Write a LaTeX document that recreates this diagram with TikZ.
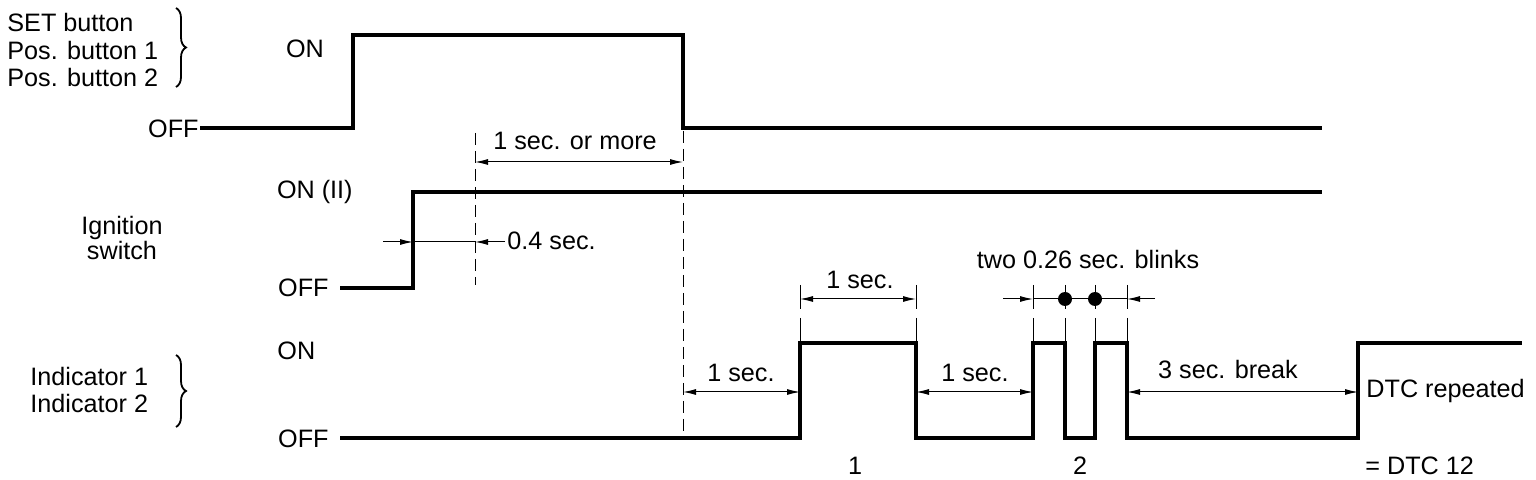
\documentclass[tikz,border=0pt]{standalone}
\usepackage{fontspec}
\setmainfont{Liberation Sans}
\usetikzlibrary{arrows.meta,decorations.pathreplacing}
\begin{document}
\begin{tikzpicture}[x=0.5pt,y=-0.5pt,
  sig/.style={line width=1.6pt, line join=miter, line cap=butt},
  thinln/.style={line width=0.5pt},
  tip/.style={line width=0.5pt,-{Latex[length=6.5pt,width=3pt]}},
  dim/.style={line width=0.5pt,{Latex[length=6.5pt,width=3pt]}-{Latex[length=6.5pt,width=3pt]}},
  dashln/.style={line width=0.5pt, dash pattern=on 6pt off 3pt},
  bracedeco/.style={line width=0.9pt, decorate, decoration={brace, amplitude=5pt}},
  lbl/.style={inner sep=0pt, font=\fontsize{12.6}{13.75}\selectfont},
  dotmark/.style={circle, fill=black, inner sep=0pt, minimum size=7pt}
]
\useasboundingbox (0,0) rectangle (1536,480);

% ---------------- labels ----------------
\node[lbl, anchor=west, align=left] (lset) at (7,50) {SET button\\Pos. button 1\\Pos. button 2};
\node[lbl, align=center, font=\fontsize{12.6}{10.8}\selectfont] (lign) at (122,238) {Ignition\\switch};
\node[lbl, anchor=west, align=left] (lind) at (30,390) {Indicator 1\\Indicator 2};

\node[lbl, anchor=base east] (offA) at (199,138) {OFF};
\node[lbl, anchor=base] (onA) at (305,58) {ON};
\node[lbl, anchor=base east] (onB) at (353,199) {ON (II)};
\node[lbl, anchor=base east] (offB) at (329,297) {OFF};
\node[lbl, anchor=base west] (onC) at (277,360) {ON};
\node[lbl, anchor=base east] (offC) at (329,447) {OFF};

\node[lbl, anchor=base] (tmore) at (575,150) {1 sec. or more};
\node[lbl, anchor=base west] (tfour) at (507,250) {0.4 sec.};
\node[lbl, anchor=base] (tone) at (860,289) {1 sec.};
\node[lbl, anchor=base] (tonea) at (741,382) {1 sec.};
\node[lbl, anchor=base] (toneb) at (975,382) {1 sec.};
\node[lbl, anchor=base] (tblink) at (1088,269) {two 0.26 sec. blinks};
\node[lbl, anchor=base] (tbreak) at (1228,379) {3 sec. break};
\node[lbl, anchor=base west] (trep) at (1366,398) {DTC repeated};
\node[lbl, anchor=base west] (tdtc) at (1365,474) {= DTC 12};
\node[lbl, anchor=base] (tn1) at (855,474) {1};
\node[lbl, anchor=base] (tn2) at (1080,474) {2};

% ---------------- braces ----------------
\coordinate (brA1) at (176,8);
\coordinate (brA2) at (176,87);
\coordinate (brC1) at (176,355);
\coordinate (brC2) at (176,427);
\draw[bracedeco] (brA1) -- (brA2);
\draw[bracedeco] (brC1) -- (brC2);

% ---------------- signal A: buttons ----------------
\coordinate (a0) at (200,128);
\coordinate (a1) at (353,128);
\coordinate (a2) at (353,35);
\coordinate (a3) at (683,35);
\coordinate (a4) at (683,128);
\coordinate (a5) at (1322,128);
\draw[sig] (a0) -- (a1) -- (a2) -- (a3) -- (a4) -- (a5);

% ---------------- signal B: ignition ----------------
\coordinate (b0) at (340,288);
\coordinate (b1) at (413,288);
\coordinate (b2) at (413,192);
\coordinate (b3) at (1322,192);
\draw[sig] (b0) -- (b1) -- (b2) -- (b3);

% ---------------- signal C: indicators ----------------
\coordinate (c0) at (340,438);
\coordinate (c1) at (800,438);
\coordinate (c2) at (800,343);
\coordinate (c3) at (916,343);
\coordinate (c4) at (916,438);
\coordinate (c5) at (1033,438);
\coordinate (c6) at (1033,343);
\coordinate (c7) at (1065,343);
\coordinate (c8) at (1065,438);
\coordinate (c9) at (1095,438);
\coordinate (c10) at (1095,343);
\coordinate (c11) at (1127,343);
\coordinate (c12) at (1127,438);
\coordinate (c13) at (1358,438);
\coordinate (c14) at (1358,343);
\coordinate (c15) at (1522,343);
\draw[sig] (c0) -- (c1) -- (c2) -- (c3) -- (c4) -- (c5) -- (c6) -- (c7) -- (c8)
  -- (c9) -- (c10) -- (c11) -- (c12) -- (c13) -- (c14) -- (c15);

% ---------------- dashed guides ----------------
\coordinate (d1t) at (475,133);
\coordinate (d1b) at (475,285);
\coordinate (d2t) at (683,131);
\coordinate (d2b) at (683,440);
\draw[dashln] (d1t) -- (d1b);
\draw[dashln] (d2t) -- (d2b);

% ---------------- dimensions ----------------
% 1 sec. or more
\coordinate (m1) at (475,162);
\coordinate (m2) at (683,162);
\draw[dim] (m1) -- (m2);

% 0.4 sec.
\coordinate (f0) at (383,242);
\coordinate (f1) at (413,242);
\coordinate (f2) at (475,242);
\coordinate (f3) at (505,242);
\draw[tip] (f0) -- (f1);
\draw[thinln] (f1) -- (f2);
\draw[tip] (f3) -- (f2);

% 1 sec. above pulse 1 (extension lines)
\coordinate (e1a) at (800,285);
\coordinate (e1b) at (800,309);
\coordinate (e1c) at (800,318);
\coordinate (e2a) at (916,285);
\coordinate (e2b) at (916,309);
\coordinate (e2c) at (916,318);
\draw[thinln] (e1a) -- (e1b) (e1c) -- (c2);
\draw[thinln] (e2a) -- (e2b) (e2c) -- (c3);
\coordinate (o1) at (800,299);
\coordinate (o2) at (916,299);
\draw[dim] (o1) -- (o2);

% bottom 1 sec. intervals and 3 sec. break
\coordinate (p1) at (683,392);
\coordinate (p2) at (800,392);
\coordinate (p3) at (916,392);
\coordinate (p4) at (1033,392);
\coordinate (p5) at (1127,392);
\coordinate (p6) at (1358,392);
\draw[dim] (p1) -- (p2);
\draw[dim] (p3) -- (p4);
\draw[dim] (p5) -- (p6);

% two 0.26 sec. blinks
\foreach \n/\x/\c in {g1/1033/c6, g2/1065/c7, g3/1095/c10, g4/1127/c11}{
  \coordinate (\n a) at (\x,285);
  \coordinate (\n b) at (\x,309);
  \coordinate (\n c) at (\x,318);
  \draw[thinln] (\n a) -- (\n b) (\n c) -- (\c);
}
\coordinate (k0) at (1003,299);
\coordinate (k1) at (1033,299);
\coordinate (k4) at (1127,299);
\coordinate (k5) at (1155,299);
\draw[tip] (k0) -- (k1);
\draw[thinln] (k1) -- (k4);
\draw[tip] (k5) -- (k4);
\node[dotmark] (dot1) at (1065,299) {};
\node[dotmark] (dot2) at (1095,299) {};

\end{tikzpicture}
\end{document}
